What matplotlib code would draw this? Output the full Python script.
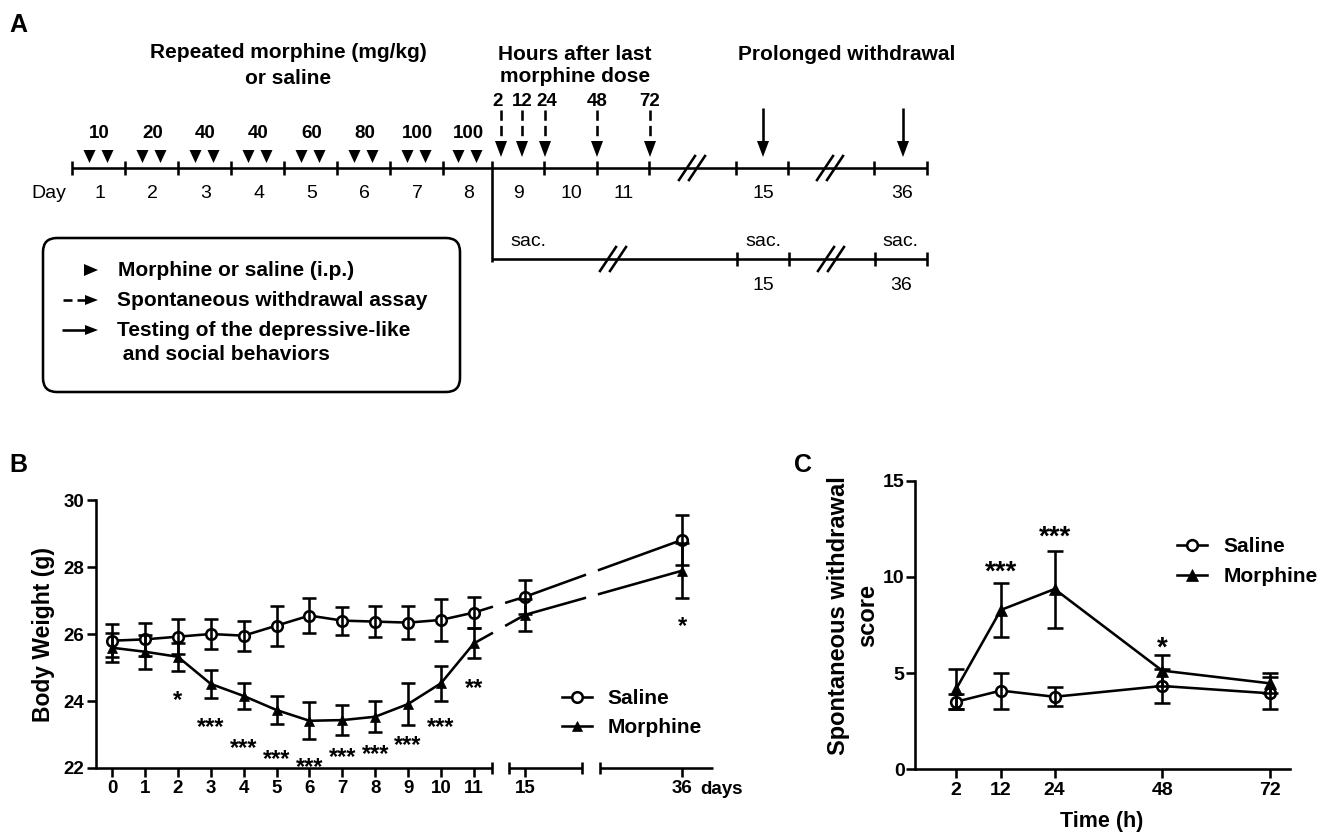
import matplotlib
matplotlib.use("Agg")
import matplotlib.pyplot as plt
from matplotlib.lines import Line2D
from matplotlib.patches import FancyBboxPatch, Polygon

plt.rcParams['font.family'] = ['Liberation Sans', 'DejaVu Sans']

W, H = 1328, 839

# ---------------- Data ----------------
# Panel A (protocol diagram)
a_dose_labels = ['10', '20', '40', '40', '60', '80', '100', '100']
a_day_labels = ['1', '2', '3', '4', '5', '6', '7', '8', '9', '10', '11', '15', '36']
a_hour_labels = ['2', '12', '24', '48', '72']
a_legend_items = ['Morphine or saline (i.p.)', 'Spontaneous withdrawal assay',
                  'Testing of the depressive-like', ' and social behaviors']

# Panel B (body weight)
b_days = [0, 1, 2, 3, 4, 5, 6, 7, 8, 9, 10, 11, 15, 36]
b_saline = [25.80, 25.84, 25.92, 26.00, 25.95, 26.25, 26.55, 26.40, 26.37, 26.34, 26.42, 26.64, 27.11, 28.81]
b_saline_err = [0.50, 0.50, 0.52, 0.46, 0.45, 0.60, 0.53, 0.42, 0.47, 0.50, 0.63, 0.47, 0.50, 0.74]
b_morph = [25.59, 25.47, 25.32, 24.51, 24.15, 23.73, 23.41, 23.43, 23.53, 23.91, 24.53, 25.72, 26.57, 27.89]
b_morph_err = [0.43, 0.50, 0.42, 0.42, 0.38, 0.42, 0.55, 0.45, 0.47, 0.62, 0.52, 0.45, 0.47, 0.82]
b_star_days = [2, 3, 4, 5, 6, 7, 8, 9, 10, 11, 36]
b_star_labels = ['*', '***', '***', '***', '***', '***', '***', '***', '***', '**', '*']
b_star_y = [24.28, 23.46, 22.84, 22.52, 22.27, 22.57, 22.67, 22.93, 23.46, 24.63, 26.48]

# Panel C (spontaneous withdrawal)
c_hours = [2, 12, 24, 48, 72]
c_saline = [3.51, 4.09, 3.77, 4.33, 3.95]
c_saline_err = [0.39, 0.93, 0.50, 0.90, 0.83]
c_morph = [4.16, 8.28, 9.37, 5.13, 4.47]
c_morph_err = [1.05, 1.38, 2.00, 0.81, 0.52]
c_star_hours = [12, 24, 48]
c_star_labels = ['***', '***', '*']
c_star_y = [10.71, 12.53, 6.76]

# ---------------- Figure ----------------
fig = plt.figure(figsize=(W / 100, H / 100), dpi=100)
LW = 1.85
BOLD = 'bold'

# overlay axes in pixel coordinates for the diagram in panel A
ov = fig.add_axes([0, 0, 1, 1])
ov.set_xlim(0, W)
ov.set_ylim(H, 0)
ov.axis('off')
ov.patch.set_visible(False)


def tri(x_tip, y_tip, direction, length, half):
    if direction == 'down':
        pts = [(x_tip, y_tip), (x_tip - half, y_tip - length), (x_tip + half, y_tip - length)]
    else:  # right
        pts = [(x_tip, y_tip), (x_tip - length, y_tip - half), (x_tip - length, y_tip + half)]
    ov.add_patch(Polygon(pts, closed=True, color='black', lw=0))


def hline(x0, x1, y, **kw):
    ov.plot([x0, x1], [y, y], color='black', lw=LW, solid_capstyle='butt', **kw)


def vline(x, y0, y1, **kw):
    ov.plot([x, x], [y0, y1], color='black', lw=LW, solid_capstyle='butt', **kw)


def slashes(cx, cy):
    for dx in (-5, 5):
        ov.plot([cx + dx - 8, cx + dx + 8], [cy + 12, cy - 12], color='black', lw=LW)


ov.text(9, 25, 'A', fontsize=18, fontweight=BOLD, ha='left', va='center')
ov.text(288, 53, 'Repeated morphine (mg/kg)', fontsize=15, fontweight=BOLD, ha='center', va='center')
ov.text(288, 78, 'or saline', fontsize=15, fontweight=BOLD, ha='center', va='center')
ov.text(575, 54, 'Hours after last', fontsize=15, fontweight=BOLD, ha='center', va='center')
ov.text(575, 77, 'morphine dose', fontsize=15, fontweight=BOLD, ha='center', va='center')
ov.text(847, 54, 'Prolonged withdrawal', fontsize=15, fontweight=BOLD, ha='center', va='center')

# main timeline
ty = 168
edges = [72, 125, 178, 231, 284, 337, 390, 443, 492, 544, 597, 649]
hline(72, 927, ty)
for x in edges + [736, 788, 874, 927]:
    if x != 492:
        vline(x, ty - 7, ty + 7)
vline(492, ty - 7, 262)
slashes(692, ty)
slashes(830, ty)

# doses with injection triangles
for i, lab in enumerate(a_dose_labels):
    mid = (edges[i] + edges[i + 1]) / 2
    ov.text(mid + 1, 133, lab, fontsize=13.5, fontweight=BOLD, ha='center', va='center')
    for dx in (-9, 9):
        tri(mid + dx, 163, 'down', 13, 6)

# day numbers
day_x = [(edges[i] + edges[i + 1]) / 2 for i in range(11)] + [762, 901]
ov.text(49, 194, 'Day', fontsize=14, ha='center', va='center')
for x, lab in zip(day_x, a_day_labels):
    ov.text(x + 1, 194, lab, fontsize=14, ha='center', va='center')

# hours after last dose: dashed arrows
hour_x = [501, 522, 545, 597, 650]
hour_lab_x = [498, 522, 547, 597, 650]
for x, lx, lab in zip(hour_x, hour_lab_x, a_hour_labels):
    ov.text(lx, 101, lab, fontsize=13.5, fontweight=BOLD, ha='center', va='center')
    ov.plot([x, x], [110, 142], color='black', lw=LW, dashes=(4, 2))
    tri(x, 157, 'down', 16, 6)

# prolonged withdrawal: solid arrows
for x in (763, 903):
    vline(x, 108, 145)
    tri(x, 157, 'down', 16, 6)

# lower (sacrifice) timeline
ly = 259
hline(492, 927, ly)
for x in (737, 789, 875, 927):
    vline(x, ly - 7, ly + 7)
slashes(613, ly)
slashes(831, ly)
for x in (528, 763, 900):
    ov.text(x, 242, 'sac.', fontsize=14, ha='center', va='center')
ov.text(763, 285, '15', fontsize=14, ha='center', va='center')
ov.text(901, 285, '36', fontsize=14, ha='center', va='center')

# legend box
ov.add_patch(FancyBboxPatch((43, 238), 417, 154, boxstyle='round,pad=0,rounding_size=14',
                            fc='none', ec='black', lw=LW))
tri(98, 270, 'right', 14, 6)
ov.text(118, 271, a_legend_items[0], fontsize=15, fontweight=BOLD, ha='left', va='center')
hline(63, 72, 300)
hline(77, 86, 300)
tri(98, 300, 'right', 13, 5)
ov.text(117, 300, a_legend_items[1], fontsize=15, fontweight=BOLD, ha='left', va='center')
hline(62, 86, 330)
tri(98, 330, 'right', 13, 5)
ov.text(117, 330, a_legend_items[2], fontsize=15, fontweight=BOLD, ha='left', va='center')
ov.text(117, 355, a_legend_items[3], fontsize=15, fontweight=BOLD, ha='left', va='center')

# ---------------- Panel B ----------------
fig.text(18 / W, 1 - 465 / H, 'B', fontsize=18, fontweight=BOLD, ha='center', va='center')
fig.text(803 / W, 1 - 465 / H, 'C', fontsize=18, fontweight=BOLD, ha='center', va='center')

axB = fig.add_axes([96 / W, 1 - 768 / H, 617 / W, 268 / H])
axB.patch.set_visible(False)
BREAK_POS = {15: 12.55, 36: 17.33}
b_pos = [d if d <= 11 else BREAK_POS[d] for d in b_days]
line_gaps = [(11.58, 11.95), (14.41, 14.77)]
axis_segments = [(-0.49, 11.55), (12.07, 14.29), (14.83, 18.27)]


def gapped(xs, ys, gaps):
    segs = []
    cx, cy = [xs[0]], [ys[0]]
    for i in range(1, len(xs)):
        x0, y0, x1, y1 = xs[i - 1], ys[i - 1], xs[i], ys[i]
        for g0, g1 in gaps:
            if x0 < g0 and g1 < x1:
                ya = y0 + (y1 - y0) * (g0 - x0) / (x1 - x0)
                yb = y0 + (y1 - y0) * (g1 - x0) / (x1 - x0)
                cx.append(g0)
                cy.append(ya)
                segs.append((cx, cy))
                cx, cy = [g1], [yb]
        cx.append(x1)
        cy.append(y1)
    segs.append((cx, cy))
    return segs


for ys in (b_saline, b_morph):
    for sx, sy in gapped(b_pos, ys, line_gaps):
        axB.plot(sx, sy, color='black', lw=LW, solid_capstyle='butt', zorder=2)

axB.errorbar(b_pos, b_saline, yerr=b_saline_err, fmt='none', ecolor='black',
             elinewidth=LW, capsize=4.7, capthick=LW, zorder=4)
axB.errorbar(b_pos, b_morph, yerr=b_morph_err, fmt='none', ecolor='black',
             elinewidth=LW, capsize=4.7, capthick=LW, zorder=4)
axB.plot(b_pos, b_saline, ls='none', marker='o', ms=7.6, mfc='white', mec='black', mew=LW, zorder=3)
axB.plot(b_pos, b_morph, ls='none', marker='^', ms=7.6, mfc='black', mec='black', mew=0.5, zorder=3)

for d, lab, y in zip(b_star_days, b_star_labels, b_star_y):
    x = d if d <= 11 else BREAK_POS[d]
    axB.annotate(lab, (x, y), xytext=(0, -0.64 * 17), textcoords='offset points',
                 ha='center', va='baseline', fontsize=17, fontweight=BOLD)

axB.set_xlim(-0.49, 18.27)
axB.set_ylim(22, 30)
axB.set_yticks([22, 24, 26, 28, 30])
axB.set_xticks(b_pos)
axB.set_xticklabels([str(d) for d in b_days])
for s in ('top', 'right', 'bottom'):
    axB.spines[s].set_visible(False)
axB.spines['left'].set_linewidth(LW)
axB.tick_params(direction='out', length=6.5, width=LW, labelsize=13.5, pad=2)
axB.tick_params(axis='y', pad=2)
for t in axB.get_xticklabels() + axB.get_yticklabels():
    t.set_fontweight(BOLD)
xt = axB.get_xaxis_transform()
for i, (s0, s1) in enumerate(axis_segments):
    axB.plot([s0, s1], [0, 0], transform=xt, color='black', lw=LW, clip_on=False,
             solid_capstyle='butt', zorder=5)
    ends = [s1] if i == 0 else ([s0, s1] if i == 1 else [s0])
    for e in ends:
        axB.plot([e], [0], transform=xt, marker='|', ms=8, mew=LW, color='black', clip_on=False)
axB.text(700 / W, 1 - 790 / H, 'days', transform=fig.transFigure, fontsize=13.5,
         fontweight=BOLD, ha='left', va='center')
axB.set_ylabel('Body Weight (g)', fontsize=16.5, fontweight=BOLD, va='center')
axB.yaxis.set_label_coords((44 - 96) / 617, 0.5)

hB = [Line2D([], [], color='black', lw=LW, marker='o', ms=7.6, mfc='white', mew=LW),
      Line2D([], [], color='black', lw=LW, marker='^', ms=7.6, mfc='black', mew=0.5)]
axB.legend(hB, ['Saline', 'Morphine'], loc='upper left',
           bbox_to_anchor=(562 / W, 1 - 689 / H), bbox_transform=fig.transFigure,
           frameon=False, borderpad=0, borderaxespad=0, handlelength=1.45,
           handletextpad=0.75, labelspacing=0.48, prop={'size': 15, 'weight': 'bold'})

# ---------------- Panel C ----------------
axC = fig.add_axes([915 / W, 1 - 769.3 / H, 375 / W, 288.6 / H])
axC.patch.set_visible(False)
axC.errorbar(c_hours, c_saline, yerr=c_saline_err, fmt='none', ecolor='black',
             elinewidth=LW, capsize=5.5, capthick=LW, zorder=4)
axC.errorbar(c_hours, c_morph, yerr=c_morph_err, fmt='none', ecolor='black',
             elinewidth=LW, capsize=5.5, capthick=LW, zorder=4)
axC.plot(c_hours, c_saline, color='black', lw=LW, marker='o', ms=7.7, mfc='white',
         mec='black', mew=LW, zorder=3)
axC.plot(c_hours, c_morph, color='black', lw=LW, marker='^', ms=8.8, mfc='black',
         mec='black', mew=0.5, zorder=3)
for h, lab, y in zip(c_star_hours, c_star_labels, c_star_y):
    axC.annotate(lab, (h, y), xytext=(0, -0.6 * 20), textcoords='offset points',
                 ha='center', va='baseline', fontsize=20, fontweight=BOLD)
axC.set_xlim(-7.15, 76.53)
axC.set_ylim(0, 15)
axC.set_xticks(c_hours)
axC.set_yticks([0, 5, 10, 15])
for s in ('top', 'right'):
    axC.spines[s].set_visible(False)
for s in ('left', 'bottom'):
    axC.spines[s].set_linewidth(LW)
axC.tick_params(direction='out', length=6.5, width=LW, labelsize=14, pad=2.5)
axC.tick_params(axis='y', pad=1)
for t in axC.get_xticklabels() + axC.get_yticklabels():
    t.set_fontweight(BOLD)
axC.set_ylabel('Spontaneous withdrawal\nscore', fontsize=17, fontweight=BOLD, va='center',
               linespacing=1.3)
axC.yaxis.set_label_coords((853 - 915) / 375, 0.533)
axC.set_xlabel('Time (h)', fontsize=15.5, fontweight=BOLD, va='center')
axC.xaxis.set_label_coords(0.499, (769.3 - 821.7) / 288.6)

hC = [Line2D([], [], color='black', lw=LW, marker='o', ms=7.7, mfc='white', mew=LW),
      Line2D([], [], color='black', lw=LW, marker='^', ms=8.8, mfc='black', mew=0.5)]
axC.legend(hC, ['Saline', 'Morphine'], loc='upper left',
           bbox_to_anchor=(1177 / W, 1 - 537 / H), bbox_transform=fig.transFigure,
           frameon=False, borderpad=0, borderaxespad=0, handlelength=1.45,
           handletextpad=0.77, labelspacing=0.53, prop={'size': 15, 'weight': 'bold'})

fig.savefig('out.png', dpi=100)
